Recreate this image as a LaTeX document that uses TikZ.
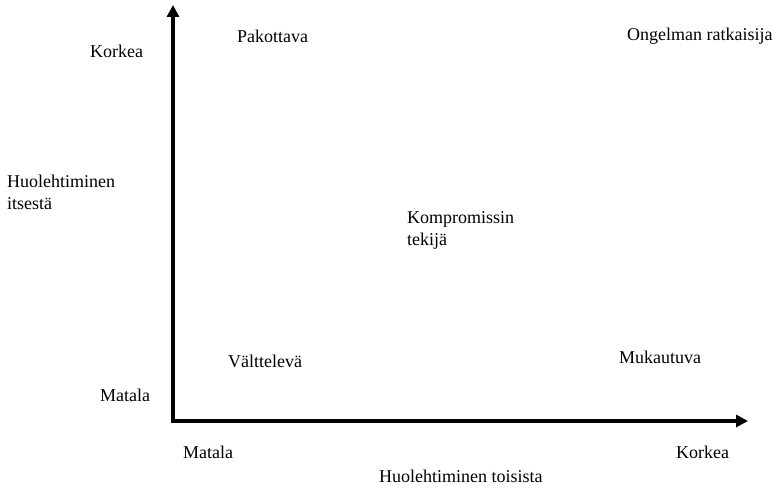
\documentclass[tikz,border=0pt]{standalone}
\usepackage{fontspec}
\setmainfont{Liberation Serif}
\usetikzlibrary{arrows.meta}
\begin{document}
\begin{tikzpicture}[x=1pt,y=-1pt,
  axis/.style={line width=4.5pt,{Triangle[length=12pt,width=12pt]}-{Triangle[length=12pt,width=12pt]}},
  lbl/.style={anchor=base west,inner sep=0pt,align=left,
    font=\fontsize{18}{22}\selectfont}]
\useasboundingbox (0,0) rectangle (778,487);

% axes
\coordinate (origin) at (173,421);
\coordinate (ytip) at (173,5);
\coordinate (xtip) at (748,421);
\draw[axis] (ytip) -- (origin) -- (xtip);

% vertical axis labels
\node[lbl] (yhigh) at (90,57) {Korkea};
\node[lbl] (ylow) at (100,401) {Matala};
\node[lbl] (ytitle) at (7,209) {Huolehtiminen\\itsestä};

% horizontal axis labels
\node[lbl] (xlow) at (183,458) {Matala};
\node[lbl] (xhigh) at (676,458) {Korkea};
\node[lbl] (xtitle) at (379,482) {Huolehtiminen toisista};

% styles
\node[lbl] (forcing) at (237,42) {Pakottava};
\node[lbl] (solver) at (627,41) {Ongelman ratkaisija};
\node[lbl] (compromise) at (407,245) {Kompromissin\\tekijä};
\node[lbl] (avoiding) at (228,367) {Välttelevä};
\node[lbl] (accommodating) at (619,363) {Mukautuva};
\end{tikzpicture}
\end{document}
